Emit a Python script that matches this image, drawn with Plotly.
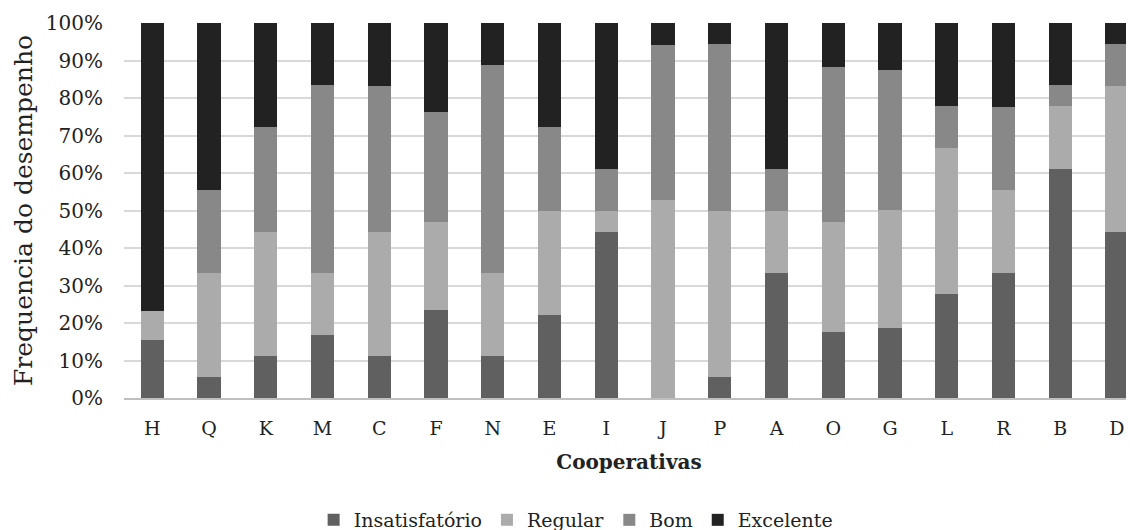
import plotly.graph_objects as go

categorias = ["H", "Q", "K", "M", "C", "F", "N", "E", "I", "J", "P", "A", "O", "G", "L", "R", "B", "D"]
insatisfatorio = [15.4, 5.6, 11.1, 16.7, 11.1, 23.5, 11.1, 22.2, 44.4, 0.0, 5.6, 33.3, 17.6, 18.8, 27.8, 33.3, 61.1, 44.4]
regular =        [7.7, 27.8, 33.3, 16.7, 33.3, 23.5, 22.2, 27.8, 5.6, 52.9, 44.4, 16.7, 29.4, 31.3, 38.9, 22.2, 16.7, 38.9]
bom =            [0.0, 22.2, 27.8, 50.0, 38.9, 29.4, 55.6, 22.2, 11.1, 41.2, 44.4, 11.1, 41.2, 37.5, 11.1, 22.2, 5.6, 11.1]
excelente =      [76.9, 44.4, 27.8, 16.7, 16.7, 23.5, 11.1, 27.8, 38.9, 5.9, 5.6, 38.9, 11.8, 12.5, 22.2, 22.2, 16.7, 5.6]

series = [
    ("Insatisfatório", insatisfatorio, "#606060"),
    ("Regular", regular, "#ababab"),
    ("Bom", bom, "#888888"),
    ("Excelente", excelente, "#222222"),
]

FONT = "DejaVu Serif, Liberation Serif, serif"

fig = go.Figure()
for name, vals, color in series:
    fig.add_trace(go.Bar(x=categorias, y=[v / 100 for v in vals], name=name,
                         marker=dict(color=color, line=dict(width=0)), width=0.41))

fig.update_layout(
    barmode="stack",
    width=1134, height=530,
    margin=dict(l=116, r=8, t=15, b=140),
    paper_bgcolor="white", plot_bgcolor="white",
    font=dict(family=FONT, size=19, color="#222222"),
    xaxis=dict(
        range=[-0.5, 17.3], automargin=False,
        showgrid=False, showline=True, linecolor="#bfbfbf", linewidth=2,
        ticks="", tickfont=dict(size=19), ticklabelstandoff=12,
        title=dict(text="<b>Cooperativas</b>", font=dict(size=20), standoff=17),
    ),
    yaxis=dict(
        range=[0, 1.0], tickformat=".0%", dtick=0.1, automargin=False,
        showgrid=True, gridcolor="#d9d9d9", gridwidth=2,
        zeroline=False, ticks="", ticklabelstandoff=20,
        tickfont=dict(size=20),
        title=dict(text="Frequencia do desempenho", font=dict(size=25), standoff=6),
    ),
    legend=dict(orientation="h", xref="container", x=0.501, xanchor="center",
                yref="container", y=0.034, yanchor="middle",
                font=dict(size=19), traceorder="normal", itemwidth=30),
)

fig.write_html("out.html")
